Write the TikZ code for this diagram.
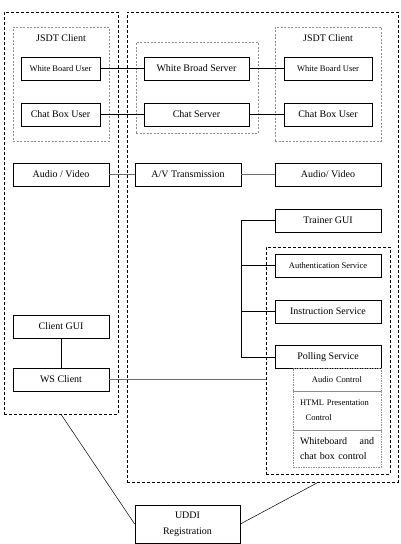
\documentclass[tikz,border=0pt]{standalone}
\usepackage{fontspec}
\setmainfont{Liberation Serif}
\usetikzlibrary{positioning, calc}
\definecolor{grpgray}{HTML}{8C8C8C}
\definecolor{linegray}{HTML}{6E6E6E}

\begin{document}
\begin{tikzpicture}[x=1pt, y=-1pt,
  box/.style={draw, line width=0.7pt, minimum height=23pt, inner sep=1pt, align=center, font=\fontsize{10}{12}\selectfont},
  smallbox/.style={box, font=\fontsize{8.5}{11}\selectfont},
  zone/.style={draw, dashed, dash pattern=on 3pt off 2pt, line width=0.6pt, inner sep=0pt},
  grp/.style={draw=grpgray, dash pattern=on 2pt off 1.5pt, line width=0.5pt, inner sep=0pt},
  subbox/.style={draw=grpgray, dash pattern=on 1.5pt off 1pt, line width=0.5pt, inner xsep=7pt, inner ysep=2pt, minimum width=88pt, text width=74pt},
  title/.style={font=\fontsize{10}{12}\selectfont},
  link/.style={line width=0.5pt},
  glink/.style={draw=linegray, line width=0.9pt}
]
  \useasboundingbox (0,0) rectangle (401,544);

  % Outer zones
  \node[zone, minimum width=114pt, minimum height=402pt] (leftzone) at (61,213) {};
  \node[zone, minimum width=271pt, minimum height=470pt] (rightzone) at (262.5,247) {};

  % JSDT client groups and server group
  \node[grp, minimum width=96pt, minimum height=114pt] (jsdtL) at (61,84) {};
  \node[title] (jsdtLt) at (61,38) {JSDT Client};
  \node[grp, minimum width=122pt, minimum height=91pt] (srvgrp) at (197,87.5) {};
  \node[grp, minimum width=106pt, minimum height=114pt] (jsdtR) at (328,84) {};
  \node[title] (jsdtRt) at (328,38) {JSDT Client};

  % Whiteboard / chat row
  \node[smallbox, minimum width=79pt] (wbuL) at (60.5,68.5) {White Board User};
  \node[box, minimum width=79pt] (cbuL) at (60.5,114.5) {Chat Box User};
  \node[box, minimum width=105pt] (wbs) at (196.5,68.5) {White Broad Server};
  \node[box, minimum width=105pt] (chs) at (196.5,114.5) {Chat Server};
  \node[smallbox, minimum width=88pt] (wbuR) at (328,68.5) {White Board User};
  \node[box, minimum width=88pt] (cbuR) at (328,114.5) {Chat Box User};

  % Audio / video row
  \node[box, minimum width=96pt] (avL) at (61,174.5) {Audio / Video};
  \node[box, minimum width=106pt] (avT) at (188,174.5) {A/V Transmission};
  \node[box, minimum width=106pt] (avR) at (328,174.5) {Audio/ Video};

  % Trainer side
  \node[box, minimum width=106pt] (trainer) at (328,220.5) {Trainer GUI};
  \node[zone, minimum width=124pt, minimum height=227pt] (svcgrp) at (328,360.5) {};
  \node[smallbox, minimum width=106pt] (auth) at (328,265.5) {Authentication Service};
  \node[box, minimum width=106pt] (instr) at (328,311.5) {Instruction Service};
  \node[box, minimum width=106pt] (poll) at (328,357) {Polling Service};
  \node[subbox, minimum height=23pt, align=center, font=\fontsize{8.5}{11}\selectfont] (audctl) at (337,379.5) {Audio Control};
  \node[subbox, minimum height=39pt, align=left, font=\fontsize{8.5}{15}\selectfont] (htmlctl) at (337,410.5) {HTML Presentation\\\ \ Control};
  \node[subbox, minimum height=37pt, align=left, font=\fontsize{10}{15}\selectfont] (wbctl) at (337,448.5) {Whiteboard\hfill and\\chat box control};

  % Client side
  \node[box, minimum width=96pt] (cgui) at (61,326.5) {Client GUI};
  \node[box, minimum width=96pt] (wsc) at (61,379.5) {WS Client};

  % Registry
  \node[box, minimum width=105pt, minimum height=38pt, font=\fontsize{10}{16}\selectfont] (uddi) at (187.5,524) {UDDI\\Registration};

  % Links
  \draw[link] (wbuL) -- (wbs);
  \draw[link] (cbuL) -- (chs);
  \draw[link] (wbs) -- (wbuR);
  \draw[link] (chs) -- (cbuR);
  \draw[glink] (avL) -- (avT);
  \draw[glink] (avT) -- (avR);
  \coordinate (bus) at (241,0);
  \draw[link] (trainer.west) -- (trainer.west -| bus) -- (poll.west -| bus) -- (poll.west);
  \draw[link] (auth.west) -- (auth.west -| bus);
  \draw[link] (instr.west) -- (instr.west -| bus);
  \draw[link] (cgui) -- (wsc);
  \draw[glink] (wsc.east) -- (wsc.east -| svcgrp.west);
  \draw[link] (leftzone.south) -- (uddi.west);
  \draw[link] (uddi.east) -- ($(rightzone.south west)!0.705!(rightzone.south east)$);

\end{tikzpicture}
\end{document}
